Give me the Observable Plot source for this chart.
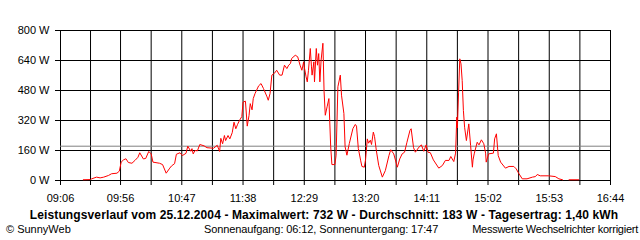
<!DOCTYPE html>
<html><head><meta charset="utf-8">
<script src="https://cdn.jsdelivr.net/npm/d3@7"></script>
<script src="https://cdn.jsdelivr.net/npm/@observablehq/plot@0.6"></script>
<style>
html,body{margin:0;padding:0;background:#fff;}
#wrap{position:relative;width:640px;height:240px;font-family:"Liberation Sans",Arial,sans-serif;color:#000;overflow:hidden;}
#chart svg{display:block;}
.cap{position:absolute;white-space:nowrap;font-size:11px;line-height:13px;}
#title{left:4px;width:640px;top:209px;text-align:center;font-weight:bold;font-size:12px;letter-spacing:0.12px;}
#c1{left:6px;top:223px;}
#c2{left:204px;top:223px;letter-spacing:-0.1px;}
#c3{right:2px;top:223px;letter-spacing:-0.25px;}
</style>
</head><body>
<div id="wrap"><div id="chart"></div>
<div class="cap" id="title"></div>
<div class="cap" id="c1"></div>
<div class="cap" id="c2"></div>
<div class="cap" id="c3"></div>
</div>
<script>
const tickLabels = ["09:06","09:56","10:47","11:38","12:29","13:20","14:11","15:02","15:53","16:44"];
const yTicks = [0,160,320,480,640,800];
const average = 183;
const titleText = "Leistungsverlauf vom 25.12.2004 - Maximalwert: 732 W - Durchschnitt: 183 W - Tagesertrag: 1,40 kWh";
const footLeft = "© SunnyWeb";
const footMid = "Sonnenaufgang: 06:12, Sonnenuntergang: 17:47";
const footRight = "Messwerte Wechselrichter korrigiert";

const times = ["9:25","9:31","9:32","9:36","9:39","9:42","9:46","9:48:30","9:53","9:55",
"9:56:30","9:58:30","10:00:30","10:02:30","10:05:30","10:08","10:10:30","10:12","10:15","10:17",
"10:19:30","10:21:30","10:23","10:28:30","10:31","10:34","10:37","10:38:30","10:41","10:42:30",
"10:45:30","10:47:30","10:50:30","10:52","10:54:30","10:55:30","10:56:30","10:58","11:00","11:02",
"11:05:30","11:08","11:13:30","11:16:30","11:18:30","11:19:30","11:21","11:22:30","11:23:30","11:25:30",
"11:27","11:29","11:30:30","11:32","11:33:30","11:35","11:37","11:38","11:40","11:41:30",
"11:43","11:44","11:45:30","11:46:30","11:48","11:51","11:53","11:55","11:58","11:59",
"12:00:30","12:02","12:04","12:06","12:08:30","12:10:30","12:12:30","12:14:30","12:16","12:17:30",
"12:18:30","12:21:30","12:23:30","12:25:30","12:27","12:28:30","12:29","12:30:30","12:31:30","12:32:30",
"12:34","12:35","12:35:30","12:37","12:37:30","12:39","12:40","12:41","12:42","12:43",
"12:44:30","12:45:30","12:46:30","12:48","12:49:30","12:51","12:52","12:54:30","12:55:30","12:57",
"12:59","13:00","13:02","13:03","13:04:30","13:06:30","13:09:30","13:11:30","13:12:30","13:14",
"13:16","13:17","13:19","13:20","13:21:30","13:22:30","13:24","13:25","13:26:30","13:27:30",
"13:29","13:31","13:34","13:36:30","13:39:30","13:41","13:43:30","13:46:30","13:48:30","13:50:30",
"13:52:30","13:54:30","13:57","13:58","14:00","14:01:30","14:04:30","14:06:30","14:08:30","14:10:30",
"14:12","14:14","14:16:30","14:21","14:24","14:26:30","14:29:30","14:31","14:33:30","14:35",
"14:36","14:36:30","14:37:30","14:38:30","14:39:30","14:40:30","14:41:30","14:42:30","14:44","14:46",
"14:47:30","14:49","14:49:30","14:50:30","14:53","14:54:30","14:56:30","14:58:30","15:00","15:00:30",
"15:02:30","15:06:30","15:07:30","15:09","15:10:30","15:12:30","15:16:30","15:19:30","15:23:30","15:25:30",
"15:27:30","15:30:30","15:34:30","15:39","15:41:30","15:43","15:45:30","15:52:30","15:58","16:01",
"16:04","16:06","16:09:30","16:17:30"];
const watts = [4,5,9,18,14,18,27,36,39,50,
98,110,116,96,92,107,124,148,115,118,
155,142,98,92,85,39,66,78,90,140,
148,133,145,183,156,170,142,160,158,192,
185,175,172,188,155,225,196,240,213,240,
222,255,311,276,300,320,341,418,423,290,
347,410,377,437,464,505,517,491,446,428,
464,562,571,588,562,562,615,597,615,624,
651,668,660,615,588,633,606,553,526,588,
704,606,562,633,526,704,615,677,526,641,
732,473,348,393,437,180,85,85,135,500,
562,455,357,180,135,197,277,299,290,171,
105,75,71,110,222,199,215,192,258,235,
160,80,18,53,133,164,142,71,115,142,
151,204,267,276,175,151,178,190,156,190,
151,148,110,66,80,107,107,128,101,146,
338,280,471,649,622,533,373,284,213,302,
187,71,110,142,204,190,217,196,146,98,
142,146,222,249,133,98,66,75,75,62,
39,9,9,18,21,32,25,25,21,9,
4,null,4,4];

const toMin = s => { const [h, m, sec] = s.split(":").map(Number); return h * 60 + m + (sec || 0) / 60; };
const labelMins = tickLabels.map(toMin);
const gridMins = labelMins.flatMap((v, i) => i < labelMins.length - 1 ? [v, (v + labelMins[i + 1]) / 2] : [v]);
const data = times.map((t, i) => ({t: toMin(t), w: watts[i]}));

const chart = Plot.plot({
  width: 640, height: 206,
  marginLeft: 60, marginRight: 30, marginTop: 30, marginBottom: 26,
  style: {fontFamily: "'Liberation Sans', Arial, sans-serif", fontSize: "11px", color: "#000", background: "#fff", overflow: "visible"},
  x: {domain: [labelMins[0], labelMins[labelMins.length - 1]], axis: null, label: null},
  y: {domain: [0, 800], axis: null, label: null},
  marks: [
    Plot.ruleY(yTicks, {stroke: "#000"}),
    Plot.ruleX(gridMins, {stroke: "#000"}),
    Plot.ruleY([average], {stroke: "#808080"}),
    Plot.line(data, {x: "t", y: "w", stroke: "#ff0000", strokeWidth: 1}),
    Plot.axisY(yTicks, {tickSize: 5, tickPadding: 6, tickFormat: d => d + " W", label: null}),
    Plot.axisX(gridMins, {tickSize: 5, tickFormat: () => "", label: null}),
    Plot.axisX(labelMins, {tickSize: 0, tickPadding: 14, tickFormat: d => tickLabels[labelMins.indexOf(d)], label: null})
  ]
});
document.getElementById("chart").appendChild(chart);
document.getElementById("title").textContent = titleText;
document.getElementById("c1").textContent = footLeft;
document.getElementById("c2").textContent = footMid;
document.getElementById("c3").textContent = footRight;
</script>
</body></html>
